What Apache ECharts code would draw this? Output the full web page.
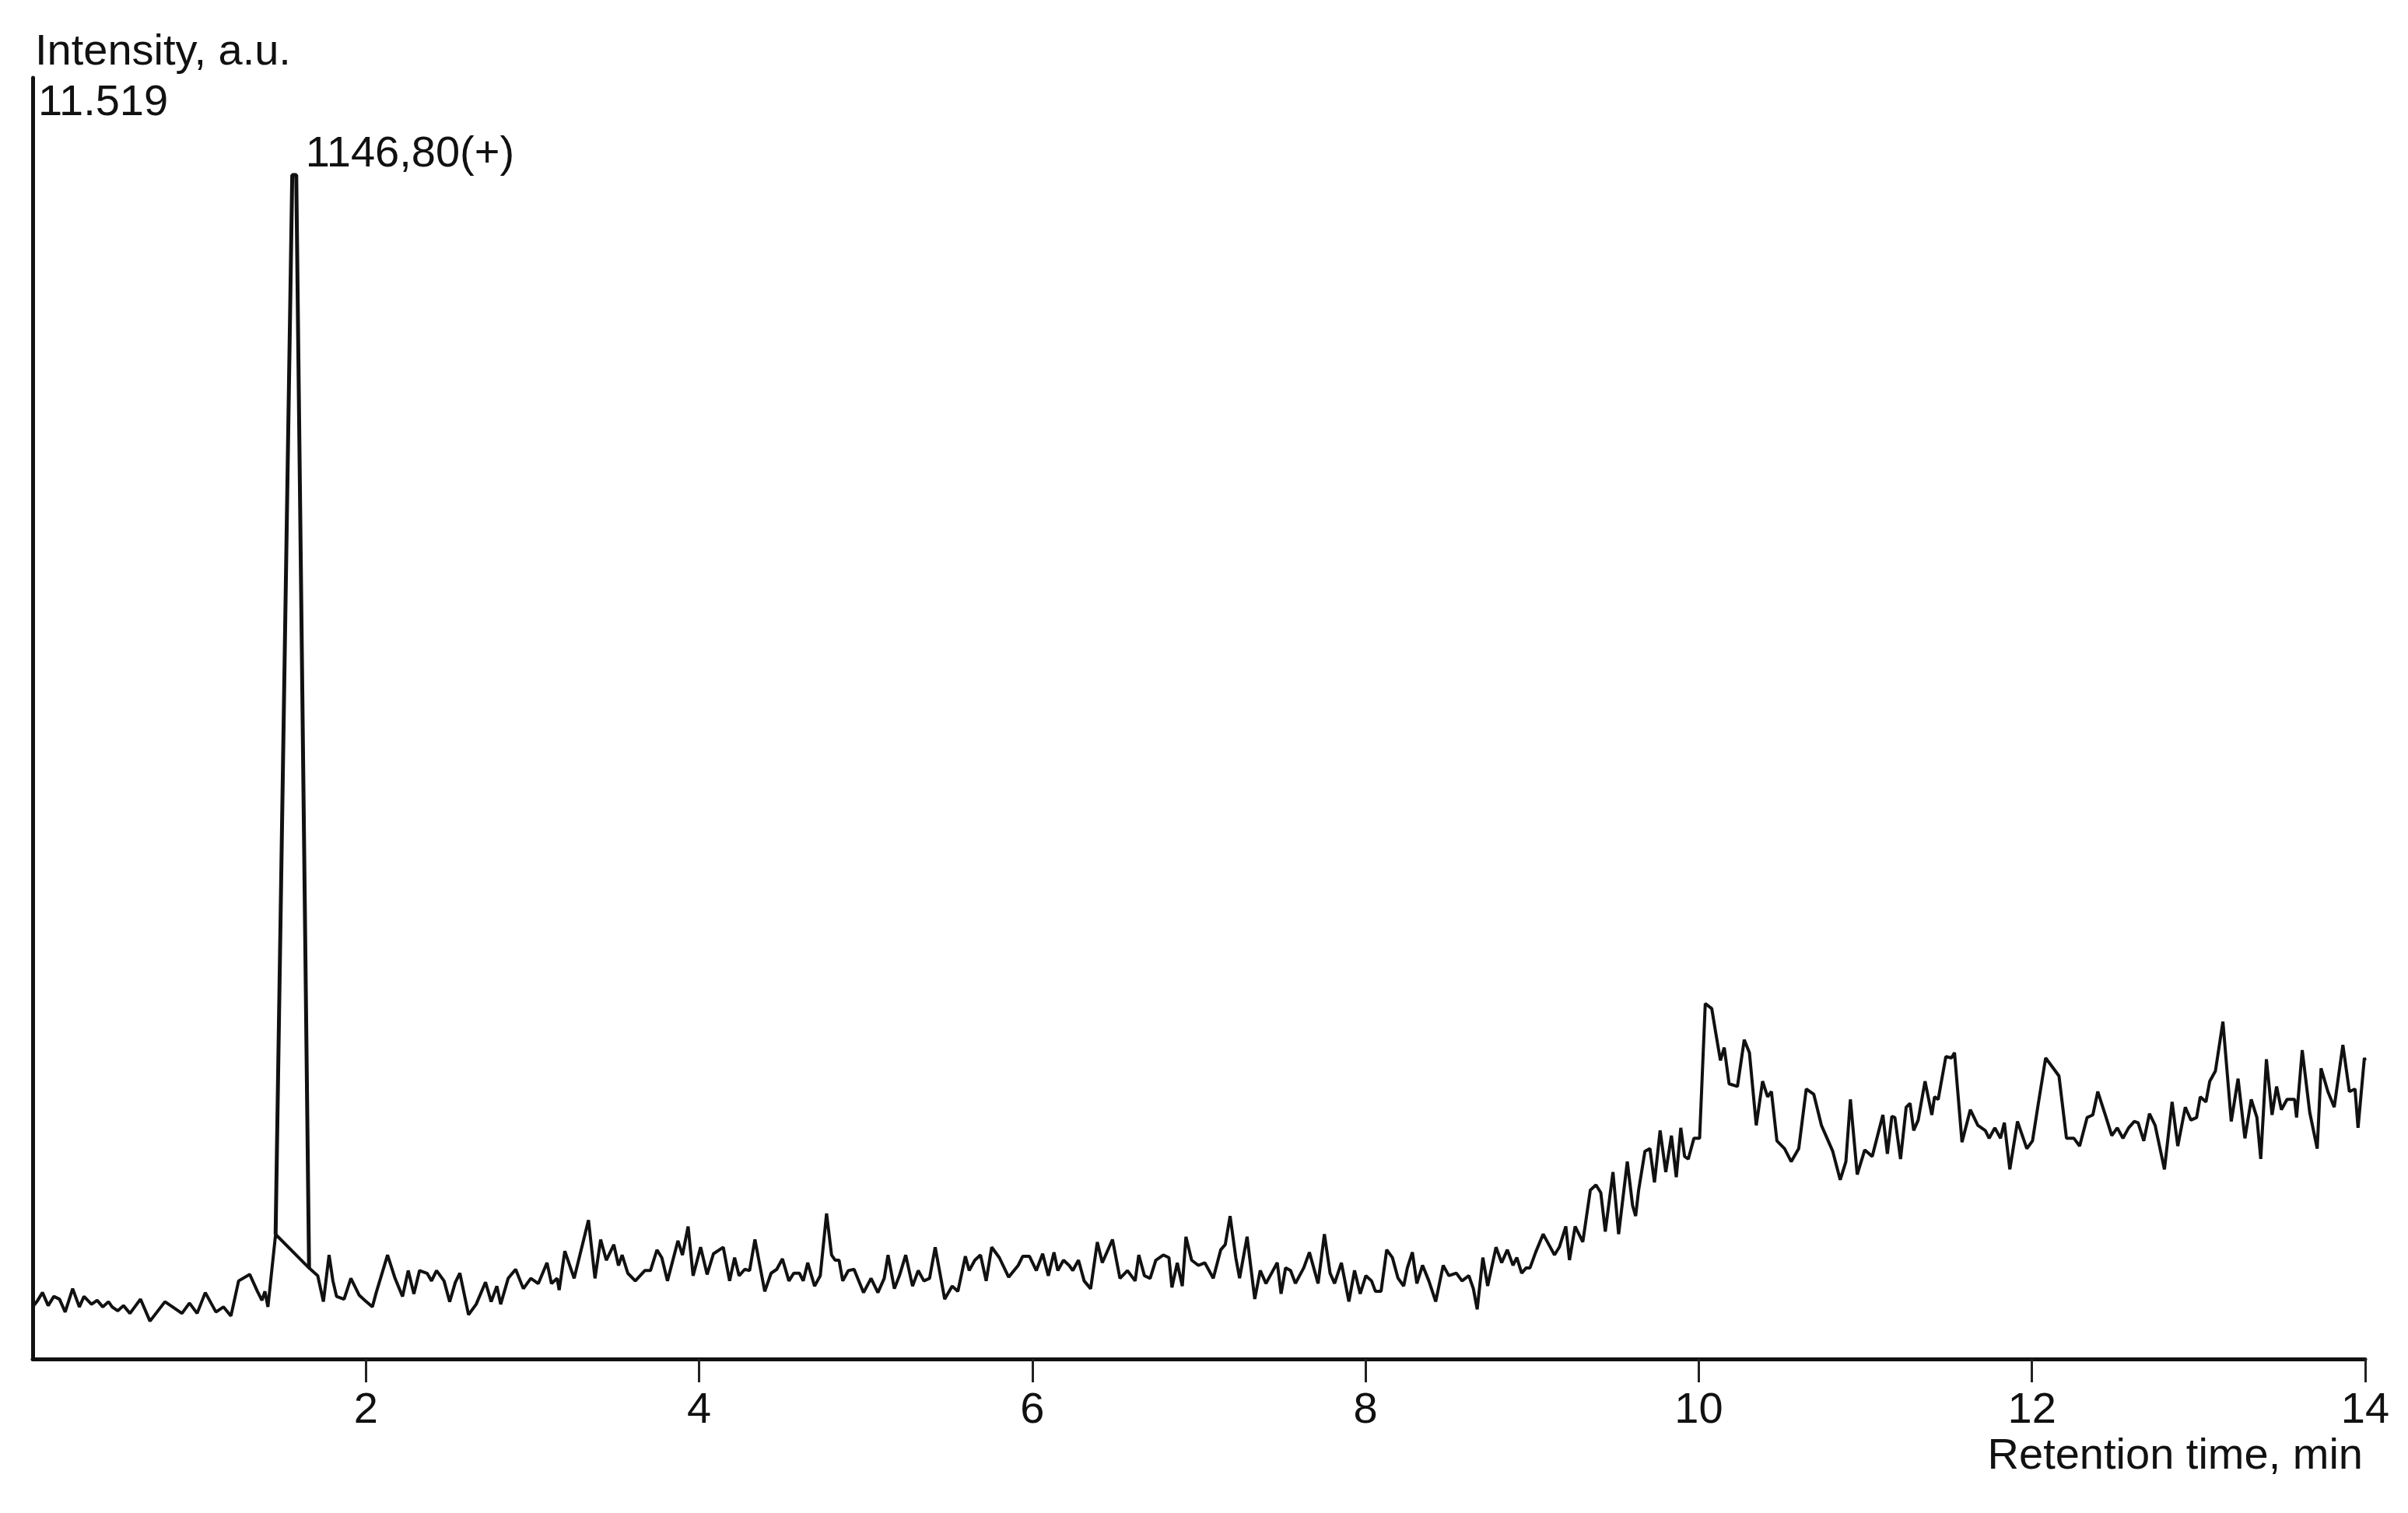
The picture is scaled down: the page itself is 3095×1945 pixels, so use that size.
<!DOCTYPE html>
<html>
<head>
<meta charset="utf-8">
<title>Chromatogram</title>
<script src="https://cdn.jsdelivr.net/npm/echarts@6/dist/echarts.min.js"></script>
<style>
  html, body { margin: 0; padding: 0; background: #fff; }
  #main { width: 3095px; height: 1945px; }
</style>
</head>
<body>
<div id="main"></div>
<script>
// retention time (min) and intensity (a.u.) of the trace
var times = [
  0.000, 0.025, 0.059, 0.093, 0.127, 0.161, 0.195, 0.240, 0.280, 0.308,
  0.353, 0.387, 0.421, 0.455, 0.477, 0.511, 0.545, 0.584, 0.647, 0.704,
  0.794, 0.840, 0.896, 0.941, 0.987, 1.036, 1.100, 1.145, 1.190, 1.236,
  1.303, 1.349, 1.376, 1.394, 1.412, 1.458, 1.659, 1.711, 1.745, 1.779,
  1.802, 1.824, 1.869, 1.910, 1.960, 1.994, 2.039, 2.062, 2.130, 2.175,
  2.220, 2.254, 2.288, 2.322, 2.367, 2.394, 2.424, 2.469, 2.503, 2.537,
  2.564, 2.616, 2.662, 2.718, 2.752, 2.786, 2.809, 2.854, 2.899, 2.945,
  2.990, 3.035, 3.087, 3.114, 3.148, 3.160, 3.194, 3.250, 3.336, 3.375,
  3.409, 3.443, 3.488, 3.516, 3.538, 3.572, 3.617, 3.674, 3.708, 3.747,
  3.776, 3.810, 3.873, 3.900, 3.934, 3.964, 4.009, 4.048, 4.086, 4.145,
  4.183, 4.213, 4.240, 4.274, 4.303, 4.335, 4.394, 4.432, 4.466, 4.500,
  4.539, 4.568, 4.602, 4.625, 4.652, 4.693, 4.727, 4.765, 4.795, 4.817,
  4.840, 4.862, 4.896, 4.930, 4.987, 5.032, 5.073, 5.111, 5.134, 5.172,
  5.202, 5.240, 5.281, 5.315, 5.349, 5.383, 5.417, 5.474, 5.519, 5.553,
  5.598, 5.621, 5.655, 5.689, 5.723, 5.756, 5.802, 5.858, 5.915, 5.942,
  5.983, 6.024, 6.062, 6.096, 6.130, 6.153, 6.187, 6.221, 6.243, 6.277,
  6.311, 6.350, 6.390, 6.420, 6.481, 6.526, 6.571, 6.617, 6.639, 6.673,
  6.707, 6.741, 6.786, 6.820, 6.838, 6.870, 6.900, 6.922, 6.956, 6.997,
  7.035, 7.086, 7.131, 7.158, 7.187, 7.221, 7.244, 7.289, 7.335, 7.368,
  7.402, 7.436, 7.470, 7.493, 7.520, 7.550, 7.579, 7.629, 7.663, 7.715,
  7.753, 7.787, 7.814, 7.855, 7.900, 7.934, 7.968, 8.002, 8.036, 8.059,
  8.093, 8.127, 8.161, 8.195, 8.229, 8.251, 8.281, 8.308, 8.342, 8.380,
  8.421, 8.466, 8.500, 8.545, 8.579, 8.620, 8.647, 8.670, 8.704, 8.733,
  8.783, 8.817, 8.851, 8.885, 8.908, 8.937, 8.964, 8.987, 9.021, 9.066,
  9.100, 9.134, 9.163, 9.202, 9.224, 9.258, 9.304, 9.349, 9.383, 9.412,
  9.439, 9.485, 9.519, 9.571, 9.603, 9.621, 9.639, 9.677, 9.707, 9.734,
  9.768, 9.802, 9.836, 9.865, 9.892, 9.915, 9.937, 9.971, 10.005, 10.039,
  10.078, 10.101, 10.130, 10.153, 10.182, 10.232, 10.273, 10.304, 10.345, 10.383,
  10.413, 10.436, 10.469, 10.515, 10.555, 10.600, 10.645, 10.690, 10.736, 10.804,
  10.849, 10.883, 10.910, 10.951, 10.996, 11.041, 11.105, 11.132, 11.159, 11.177,
  11.211, 11.245, 11.268, 11.290, 11.317, 11.358, 11.399, 11.415, 11.437, 11.483,
  11.517, 11.535, 11.580, 11.630, 11.675, 11.720, 11.743, 11.777, 11.811, 11.834,
  11.867, 11.913, 11.969, 12.003, 12.037, 12.082, 12.128, 12.162, 12.207, 12.252,
  12.286, 12.331, 12.365, 12.395, 12.445, 12.479, 12.512, 12.546, 12.580, 12.614,
  12.637, 12.671, 12.705, 12.739, 12.795, 12.841, 12.875, 12.920, 12.954, 12.988,
  13.010, 13.044, 13.067, 13.101, 13.146, 13.196, 13.237, 13.278, 13.316, 13.350,
  13.373, 13.407, 13.441, 13.468, 13.497, 13.531, 13.576, 13.588, 13.622, 13.667,
  13.712, 13.735, 13.776, 13.814, 13.866, 13.905, 13.939, 13.957, 13.995, 14.000
];
var intensity = [
  0.468, 0.515, 0.597, 0.480, 0.562, 0.538, 0.422, 0.632, 0.468, 0.562,
  0.492, 0.527, 0.468, 0.515, 0.468, 0.433, 0.480, 0.410, 0.538, 0.340,
  0.515, 0.468, 0.410, 0.503, 0.410, 0.597, 0.422, 0.468, 0.387, 0.702,
  0.760, 0.608, 0.527, 0.608, 0.468, 1.121, 0.818, 0.748, 0.515, 0.935,
  0.702, 0.562, 0.538, 0.725, 0.573, 0.527, 0.468, 0.597, 0.935, 0.725,
  0.562, 0.795, 0.585, 0.795, 0.771, 0.702, 0.795, 0.702, 0.515, 0.690,
  0.771, 0.398, 0.492, 0.690, 0.515, 0.655, 0.492, 0.725, 0.806, 0.632,
  0.725, 0.678, 0.865, 0.678, 0.725, 0.620, 0.970, 0.725, 1.249, 0.725,
  1.074, 0.888, 1.028, 0.841, 0.935, 0.771, 0.702, 0.795, 0.795, 0.981,
  0.911, 0.702, 1.063, 0.935, 1.191, 0.748, 1.005, 0.760, 0.946, 1.005,
  0.702, 0.911, 0.748, 0.806, 0.795, 1.074, 0.608, 0.771, 0.806, 0.900,
  0.702, 0.771, 0.771, 0.702, 0.865, 0.655, 0.748, 1.308, 0.935, 0.888,
  0.888, 0.702, 0.795, 0.806, 0.597, 0.725, 0.597, 0.725, 0.935, 0.632,
  0.748, 0.935, 0.655, 0.795, 0.702, 0.725, 1.005, 0.538, 0.655, 0.608,
  0.923, 0.795, 0.888, 0.935, 0.702, 1.005, 0.911, 0.736, 0.841, 0.923,
  0.923, 0.795, 0.946, 0.748, 0.958, 0.795, 0.888, 0.841, 0.795, 0.888,
  0.702, 0.632, 1.051, 0.865, 1.074, 0.725, 0.795, 0.702, 0.935, 0.748,
  0.725, 0.888, 0.935, 0.911, 0.643, 0.865, 0.655, 1.098, 0.888, 0.841,
  0.865, 0.726, 0.982, 1.029, 1.285, 0.912, 0.726, 1.099, 0.539, 0.796,
  0.679, 0.772, 0.865, 0.586, 0.819, 0.796, 0.679, 0.819, 0.959, 0.679,
  1.122, 0.772, 0.679, 0.865, 0.516, 0.796, 0.586, 0.749, 0.702, 0.609,
  0.609, 0.982, 0.912, 0.726, 0.656, 0.819, 0.959, 0.679, 0.842, 0.702,
  0.516, 0.842, 0.749, 0.772, 0.702, 0.749, 0.632, 0.446, 0.912, 0.656,
  1.005, 0.865, 0.982, 0.842, 0.912, 0.772, 0.819, 0.819, 0.959, 1.122,
  1.029, 0.935, 1.005, 1.192, 0.889, 1.192, 1.052, 1.518, 1.565, 1.495,
  1.145, 1.681, 1.122, 1.774, 1.378, 1.285, 1.518, 1.868, 1.891, 1.588,
  2.054, 1.681, 2.008, 1.635, 2.078, 1.821, 1.798, 1.984, 1.984, 3.196,
  3.150, 2.940, 2.684, 2.800, 2.474, 2.450, 2.870, 2.754, 2.101, 2.497,
  2.357, 2.404, 1.961, 1.891, 1.774, 1.891, 2.427, 2.381, 2.101, 1.868,
  1.611, 1.774, 2.334, 1.658, 1.879, 1.821, 2.194, 1.844, 2.182, 2.171,
  1.798, 2.264, 2.299, 2.054, 2.148, 2.497, 2.194, 2.357, 2.334, 2.719,
  2.707, 2.754, 1.949, 2.241, 2.101, 2.054, 1.984, 2.078, 1.984, 2.124,
  1.705, 2.136, 1.891, 1.961, 2.287, 2.707, 2.614, 2.544, 1.984, 1.984,
  1.914, 2.171, 2.194, 2.404, 2.171, 2.008, 2.078, 1.984, 2.078, 2.136,
  2.124, 1.961, 2.206, 2.101, 1.705, 2.311, 1.914, 2.264, 2.148, 2.171,
  2.357, 2.311, 2.497, 2.590, 3.033, 2.136, 2.520, 1.984, 2.334, 2.171,
  1.798, 2.695, 2.194, 2.450, 2.241, 2.334, 2.334, 2.171, 2.777, 2.217,
  1.891, 2.614, 2.404, 2.264, 2.823, 2.404, 2.427, 2.078, 2.707, 2.684
];

// the labelled peak
var peakTimes = [1.458, 1.558, 1.582, 1.659];
var peakValues = [1.121, 10.645, 10.645, 0.818];
var peakLabel = '1146,80(+)';

// axes
var xTicks = [2, 4, 6, 8, 10, 12, 14];
var yMax = 11.519;

var font = '"Liberation Sans", Arial, sans-serif';
var chart = echarts.init(document.getElementById('main'));

var traceData = times.map(function (t, i) { return [t, intensity[i]]; });
var peakData = peakTimes.map(function (t, i) { return [t, peakValues[i]]; });

chart.setOption({
  animation: false,
  backgroundColor: '#fff',
  textStyle: { fontFamily: font, color: '#111' },
  grid: { left: 42, right: 55, top: 100, bottom: 198 },
  xAxis: {
    type: 'value',
    min: 0,
    max: 14,
    interval: 2,
    name: 'Retention time, min',
    nameLocation: 'end',
    nameGap: -3,
    nameMoveOverlap: false,
    nameTextStyle: {
      fontFamily: font, fontSize: 56, color: '#111',
      align: 'right', verticalAlign: 'top', lineHeight: 56,
      padding: [98, 0, 0, 0]
    },
    axisLine: { show: true, onZero: false, lineStyle: { color: '#111', width: 5 } },
    axisTick: { show: true, length: 30, customValues: xTicks, lineStyle: { color: '#222', width: 3 } },
    axisLabel: {
      customValues: xTicks,
      fontFamily: font, fontSize: 56, color: '#111',
      margin: 39, lineHeight: 56
    },
    splitLine: { show: false }
  },
  yAxis: {
    type: 'value',
    min: 0,
    max: yMax,
    name: 'Intensity, a.u.',
    nameLocation: 'end',
    nameGap: 4,
    nameTextStyle: {
      fontFamily: font, fontSize: 56, color: '#111',
      align: 'left', verticalAlign: 'bottom', lineHeight: 56,
      padding: [0, 0, 0, 3]
    },
    axisLine: { show: true, onZero: false, lineStyle: { color: '#111', width: 5 } },
    axisTick: { show: false },
    axisLabel: {
      customValues: [yMax],
      inside: true,
      margin: 7,
      verticalAlign: 'top',
      fontFamily: font, fontSize: 56, color: '#111', lineHeight: 66
    },
    splitLine: { show: false }
  },
  series: [
    {
      name: 'trace',
      type: 'line',
      data: traceData,
      showSymbol: false,
      sampling: false,
      lineStyle: { color: '#111', width: 4 },
      z: 3
    },
    {
      name: peakLabel,
      type: 'line',
      data: peakData,
      showSymbol: false,
      lineStyle: { color: '#111', width: 5 },
      z: 4,
      markPoint: {
        symbol: 'circle',
        symbolSize: 0,
        data: [{
          coord: peakData[2],
          label: {
            show: true,
            formatter: peakLabel,
            position: 'right',
            distance: 12,
            offset: [0, -26],
            fontFamily: font, fontSize: 56, color: '#111'
          }
        }]
      }
    }
  ]
});
</script>
</body>
</html>
